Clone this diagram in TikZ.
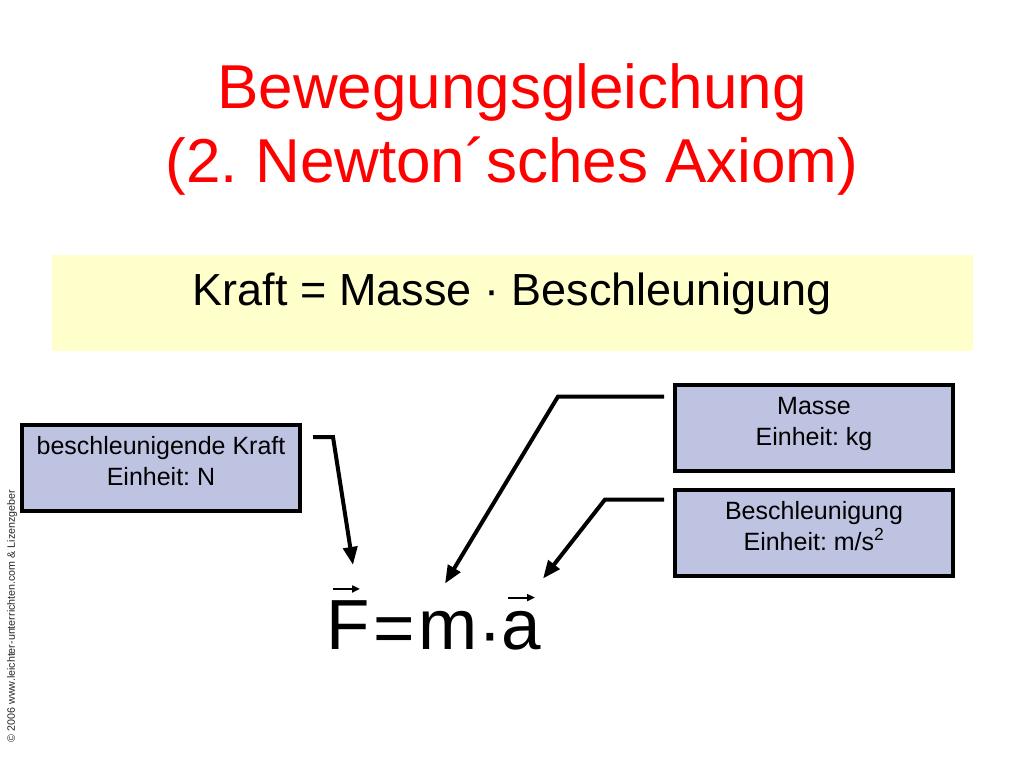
\documentclass[tikz,border=0pt]{standalone}
\usepackage{fontspec}
\setmainfont{Liberation Sans}
\usetikzlibrary{arrows.meta}
\definecolor{titlered}{RGB}{255,0,0}
\definecolor{lawyellow}{RGB}{255,255,204}
\definecolor{boxblue}{RGB}{190,195,225}
\frenchspacing
\begin{document}
\begin{tikzpicture}[x=1pt,y=-1pt,
    heading/.style={anchor=base,text=titlered,font=\fontsize{62}{74}\selectfont},
    infobox/.style={draw,line width=4pt,fill=boxblue,minimum width=278pt,minimum height=86pt,
        align=center,font=\fontsize{25}{31}\selectfont,text height=49pt,text depth=14pt},
    glyph/.style={anchor=base,inner sep=0pt,font=\fontsize{71}{71}\selectfont},
    pointer/.style={line width=4pt,-{Triangle[length=18pt,width=14pt]}},
    vecbar/.style={line width=2pt,-{Triangle[length=8pt,width=7pt]}}]
    \useasboundingbox (0,0) rectangle (1024,768);
    \node[heading] (title) at (512,108) {Bewegungsgleichung};
    \node[heading] (subtitle) at (512,182) {(2. Newton´sches Axiom)};
    \node[fill=lawyellow,minimum width=921pt,minimum height=96pt,text height=33pt,text depth=29pt,
        font=\fontsize{45}{54}\selectfont] (law) at (512.5,303) {Kraft = Masse · Beschleunigung};
    \node[infobox] (kraft) at (161,468) {beschleunigende Kraft\\Einheit: N};
    \node[infobox] (masse) at (814,427.5) {Masse\\Einheit: kg};
    \node[infobox] (beschl) at (814,532.5) {Beschleunigung\\Einheit: m/s\textsuperscript{2}};
    % F = m a
    \node[glyph] (F) at (348,649) {F};
    \node[glyph] (eq) at (394.5,652) {=};
    \node[glyph] (m) at (448,649) {m};
    \node[glyph] (dot) at (490,656) {·};
    \node[glyph] (a) at (521,649) {a};
    \draw[vecbar] ([shift={(-15,-11)}]F.north) -- ([shift={(12,-11)}]F.north);
    \draw[vecbar] ([shift={(-13,-13)}]a.north) -- ([shift={(14,-13)}]a.north);
    \draw[pointer] ([shift={(11,14)}]kraft.north east) -- ++(20,0) -- ([shift={(5,-35)}]F.north);
    \draw[pointer] ([shift={(-9,14)}]masse.north west) -- ++(-106,0) -- ([shift={(-3,-27)}]m.north);
    \draw[pointer] ([shift={(-9,12)}]beschl.north west) -- ++(-59,0) -- ([shift={(22,-32)}]a.north);
    \node[rotate=90,text=black!85,font=\fontsize{10.7}{12}\selectfont] (credit) at (12,616)
        {© 2006 www.leichter-unterrichten.com \& Lizenzgeber};
\end{tikzpicture}
\end{document}
